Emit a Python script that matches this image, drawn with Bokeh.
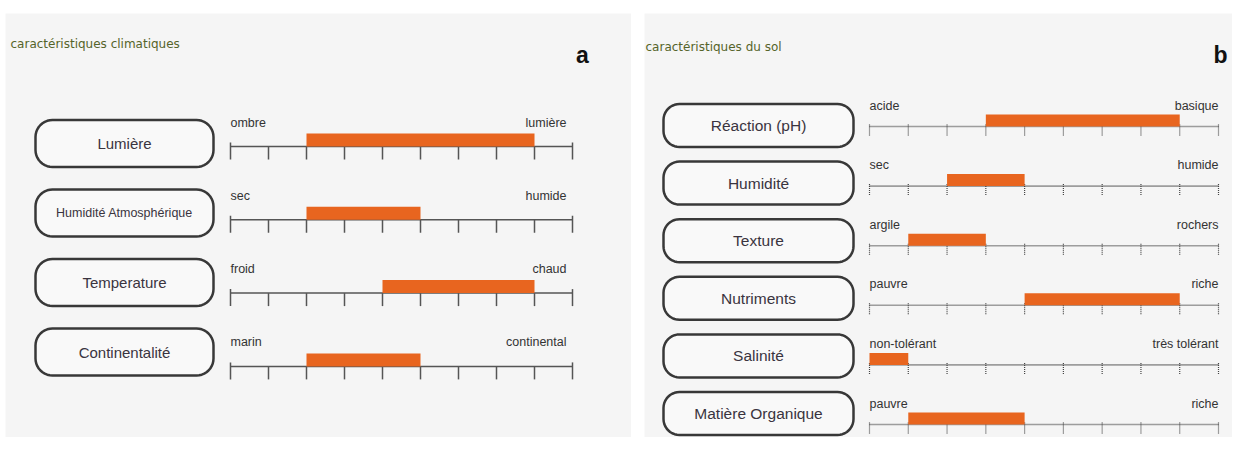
import math
from bokeh.plotting import figure
from bokeh.layouts import row
from bokeh.models import Range1d
from bokeh.core.properties import value
from bokeh.embed import file_html
from bokeh.resources import INLINE

# ---------------- data ----------------
scale_ticks = list(range(10))

clim_title = "caractéristiques climatiques"
clim_letter = "a"
clim_factors = ["Lumière", "Humidité Atmosphérique", "Temperature", "Continentalité"]
clim_low = ["ombre", "sec", "froid", "marin"]
clim_high = ["lumière", "humide", "chaud", "continental"]
clim_start = [2, 2, 4, 2]
clim_end = [8, 5, 8, 5]

sol_title = "caractéristiques du sol"
sol_letter = "b"
sol_factors = ["Réaction (pH)", "Humidité", "Texture", "Nutriments", "Salinité", "Matière Organique"]
sol_low = ["acide", "sec", "argile", "pauvre", "non-tolérant", "pauvre"]
sol_high = ["basique", "humide", "rochers", "riche", "très tolérant", "riche"]
sol_start = [3, 2, 1, 4, 0, 1]
sol_end = [8, 4, 3, 8, 1, 4]

# ---------------- styling ----------------
BG = "#f5f5f5"
BAR = "#e8651f"
AX = "#555555"
TXT = "#333333"
TITLE_C = "#55642a"
FONT = "Liberation Sans"
TOP = 13      # canvas y of frame top
H = 437
BOTTOM = H    # canvas y of frame bottom


def pill_xy(cx, cy, w, h, r, n=10):
    pts = []
    corners = [(cx + w / 2 - r, cy - h / 2 + r, -90, 0),
               (cx + w / 2 - r, cy + h / 2 - r, 0, 90),
               (cx - w / 2 + r, cy + h / 2 - r, 90, 180),
               (cx - w / 2 + r, cy - h / 2 + r, 180, 270)]
    for (ccx, ccy, a0, a1) in corners:
        for k in range(n + 1):
            a = math.radians(a0 + (a1 - a0) * k / n)
            pts.append((ccx + r * math.cos(a), ccy + r * math.sin(a)))
    return [q[0] for q in pts], [q[1] for q in pts]


def make_panel(cx0, W, bl, ax0, ax1, row_y0, row_dy, factors, low, high, start, end,
               title, title_xy, letter, letter_xy, pill_x, pill_w, pill_h, pill_r,
               pill_y0, pill_dy, label_size, factor_sizes, bar_h, low_gap, high_pad,
               dotted):
    fx0 = cx0 + bl
    fx1 = cx0 + W
    sx = (ax1 - ax0) / (len(scale_ticks) - 1)
    X = lambda px: (px - ax0) / sx
    Y = lambda py: (py - row_y0) / row_dy
    p = figure(width=W, height=H, output_backend="svg", toolbar_location=None,
               x_axis_type=None, y_axis_type=None,
               x_range=Range1d(X(fx0), X(fx1)),
               y_range=Range1d(Y(BOTTOM), Y(TOP)),
               min_border_left=bl, min_border_right=0, min_border_bottom=0,
               min_border_top=TOP)
    p.background_fill_color = BG
    p.border_fill_color = "white"
    p.outline_line_color = None
    p.xgrid.visible = False
    p.ygrid.visible = False

    rows = list(range(len(factors)))
    lo, hi = scale_ticks[0], scale_ticks[-1]

    # axis lines
    if dotted:
        p.segment(x0=[lo] * len(rows), x1=[hi] * len(rows), y0=rows, y1=rows,
                  line_color="#444444", line_width=1.6, line_dash="1 1")
    else:
        p.segment(x0=[lo] * len(rows), x1=[hi] * len(rows), y0=rows, y1=rows,
                  line_color=AX, line_width=1.5)

    # ticks
    tx, ty0, ty1 = [], [], []
    for r in rows:
        for t in scale_ticks:
            tx.append(t)
            if dotted:
                ty0.append(r - 2 / row_dy)
                ty1.append(r + 9 / row_dy)
            else:
                up = 4 if t in (lo, hi) else 0
                ty0.append(r - up / row_dy)
                ty1.append(r + 13 / row_dy)
    if dotted:
        p.segment(x0=tx, x1=tx, y0=ty0, y1=ty1, line_color="#444444",
                  line_width=1.2, line_dash="1 1")
    else:
        p.segment(x0=tx, x1=tx, y0=ty0, y1=ty1, line_color=AX, line_width=1.5)

    # bars
    p.quad(left=start, right=end, bottom=rows,
           top=[r - bar_h / row_dy for r in rows],
           fill_color=BAR, line_color=None)

    # scale end labels
    p.text(x=[lo] * len(rows), y=[r - low_gap / row_dy for r in rows], text=low,
           text_align="left", text_baseline="bottom", text_color=TXT,
           text_font=value(FONT), text_font_size=value(label_size))
    p.text(x=[hi - high_pad / sx] * len(rows), y=[r - low_gap / row_dy for r in rows],
           text=high, text_align="right", text_baseline="bottom", text_color=TXT,
           text_font=value(FONT), text_font_size=value(label_size))

    # pills
    xs, ys = [], []
    pcx = pill_x + pill_w / 2
    for i in rows:
        cy = pill_y0 + pill_dy * i
        px_, py_ = pill_xy(pcx, cy, pill_w, pill_h, pill_r)
        xs.append([X(v) for v in px_])
        ys.append([Y(v) for v in py_])
    p.patches(xs=xs, ys=ys, fill_color="#f9f9f9", line_color="#383838", line_width=2.5)
    for i in rows:
        cy = pill_y0 + pill_dy * i
        p.text(x=[X(pcx)], y=[Y(cy)], text=[factors[i]], text_align="center",
               text_baseline="middle", text_color="#3a3440",
               text_font=value(FONT), text_font_size=value(factor_sizes[i]))

    # title and letter
    p.text(x=[X(title_xy[0])], y=[Y(title_xy[1])], text=[title], text_align="left",
           text_baseline="middle", text_color=TITLE_C, text_font=value("DejaVu Sans"),
           text_font_size=value("12px"))
    p.text(x=[X(letter_xy[0])], y=[Y(letter_xy[1])], text=[letter], text_align="center",
           text_baseline="middle", text_color="#111111", text_font=value(FONT),
           text_font_style="bold", text_font_size=value("23px"))
    return p


W1 = 631
GAP = 13
W2 = 1232 - W1 - GAP

p1 = make_panel(0, W1, 5, 230, 572, 146, 73.3, clim_factors, clim_low, clim_high,
                clim_start, clim_end, clim_title, (10, 43), clim_letter, (582, 54),
                35, 178, 47, 17, 143, 69.5, "12.5px",
                ["15px", "12.5px", "15px", "15px"], 13, 17, 6, False)
p2 = make_panel(W1 + GAP, W2, 0, 869, 1218, 126, 59.6, sol_factors, sol_low, sol_high,
                sol_start, sol_end, sol_title, (645, 46), sol_letter, (1220, 54),
                663, 190, 43, 16, 125, 57.6, "12.5px",
                ["15.5px"] * 6, 12, 14, 0, True)

layout = row(p1, p2, spacing=GAP)
open("out.html", "w").write(file_html(layout, INLINE))
